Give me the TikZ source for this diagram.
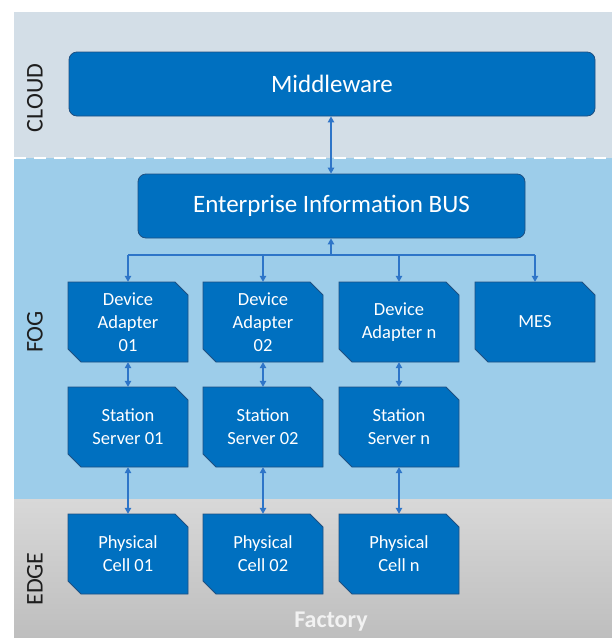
\documentclass[tikz,border=0pt]{standalone}
\usepackage{fontspec}
\setmainfont{Carlito}
\usetikzlibrary{arrows.meta}

\definecolor{cloudbg}{RGB}{211,222,231}
\definecolor{fogbg}{RGB}{157,205,234}
\definecolor{edgetop}{RGB}{216,216,216}
\definecolor{edgebot}{RGB}{190,190,190}
\definecolor{boxfill}{RGB}{0,112,192}
\definecolor{boxline}{RGB}{30,80,130}
\definecolor{connblue}{RGB}{46,117,200}
\definecolor{lbl}{RGB}{30,30,30}

\tikzset{
  bigbox/.style={rectangle, rounded corners=8pt, fill=boxfill, draw=boxline,
    line width=0.8pt, text=white, font=\fontsize{25}{30}\selectfont, inner sep=0pt},
  boxtext/.style={rectangle, inner sep=0pt, minimum width=120pt, minimum height=80pt,
    text=white, align=center, font=\fontsize{18.5}{23}\selectfont},
  snipfill/.style={fill=boxfill, draw=boxline, line width=0.8pt},
  conn/.style={draw=connblue, line width=1.1pt},
  tip/.style={-{Triangle[length=6pt,width=6.5pt]}},
  tips/.style={{Triangle[length=6pt,width=6.5pt]}-{Triangle[length=6pt,width=6.5pt]}},
  layerlbl/.style={rotate=90, text=lbl, font=\fontsize{24}{28}\selectfont},
}

% snipped box: name, centre x, centre y, text
\newcommand\snipbox[4]{%
  \fill[snipfill] ({#2-60},{#3-40}) -- ({#2+47},{#3-40}) -- ({#2+60},{#3-27})
    -- ({#2+60},{#3+40}) -- ({#2-47},{#3+40}) -- ({#2-60},{#3+27}) -- cycle;
  \node[boxtext] (#1) at (#2,#3) {#4};}

\begin{document}
\begin{tikzpicture}[x=1pt,y=-1pt]
\useasboundingbox (0,0) rectangle (612,638);

% layer bands
\fill[cloudbg] (14,12) rectangle (612,158);
\fill[fogbg] (14,158) rectangle (612,499);
\shade[top color=edgetop, bottom color=edgebot] (14,499) rectangle (612,638);
\draw[white, line width=2.6pt, dash pattern=on 12pt off 8pt] (14,158) -- (612,158);

% layer labels
\node[layerlbl] (lcloud) at (35,98) {CLOUD};
\node[layerlbl] (lfog) at (35,332) {FOG};
\node[layerlbl] (ledge) at (35,579) {EDGE};
\node[text=white!95!black, font=\bfseries\fontsize{24}{28}\selectfont] (factory) at (331,622) {Factory};

% top level boxes
\node[bigbox, minimum width=526pt, minimum height=64pt] (mw) at (332,84) {Middleware};
\node[bigbox, minimum width=387pt, minimum height=64pt] (eib) at (331.5,206) {Enterprise Information BUS};

% fog and edge boxes
\snipbox{da1}{128}{322}{Device\\Adapter\\01}
\snipbox{da2}{263}{322}{Device\\Adapter\\02}
\snipbox{dan}{399}{322}{Device\\Adapter n}
\snipbox{mes}{535}{322}{MES}
\snipbox{ss1}{128}{427}{Station\\Server 01}
\snipbox{ss2}{263}{427}{Station\\Server 02}
\snipbox{ssn}{399}{427}{Station\\Server n}
\snipbox{pc1}{128}{554}{Physical\\Cell 01}
\snipbox{pc2}{263}{554}{Physical\\Cell 02}
\snipbox{pcn}{399}{554}{Physical\\Cell n}

% connectors
\draw[conn, tips] (mw.south -| 331,0) -- (eib.north -| 331,0);
\coordinate (bus) at (331,255);
\draw[conn] (da1.north |- bus) -- (mes.north |- bus);
\draw[conn, tip] (bus) -- (eib.south -| bus);
\foreach \n in {da1,da2,dan,mes}
  \draw[conn, tip] (\n.north |- bus) -- (\n.north);
\foreach \a/\b in {da1/ss1,da2/ss2,dan/ssn,ss1/pc1,ss2/pc2,ssn/pcn}
  \draw[conn, tips] (\a.south) -- (\b.north);
\end{tikzpicture}
\end{document}
